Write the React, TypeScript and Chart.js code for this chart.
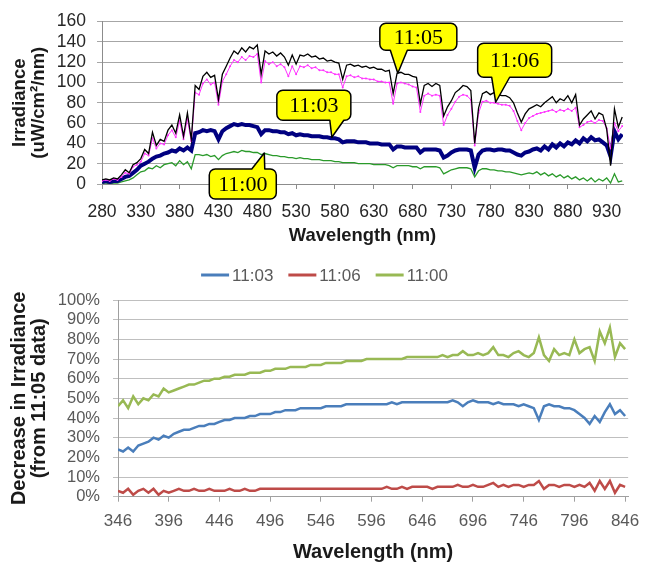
import { useEffect, useRef } from "react";
import { Chart, registerables } from "chart.js";

Chart.register(...registerables);

const SANS = "'Liberation Sans', Arial, sans-serif";
const SERIF = "'Liberation Serif', 'Times New Roman', serif";

// ---------- Top chart: irradiance spectra ----------
const TOP_NM = [
  280, 285, 290, 295, 300, 305, 310, 315, 320, 325, 330, 335, 340, 345, 350, 355, 360, 365, 370, 375,
  380, 385, 390, 395, 400, 405, 410, 415, 420, 425, 430, 435, 440, 445, 450, 455, 460, 465, 470, 475,
  480, 485, 490, 495, 500, 505, 510, 515, 520, 525, 530, 535, 540, 545, 550, 555, 560, 565, 570, 575,
  580, 585, 590, 595, 600, 605, 610, 615, 620, 625, 630, 635, 640, 645, 650, 655, 660, 665, 670, 675,
  680, 685, 690, 695, 700, 705, 710, 715, 720, 725, 730, 735, 740, 745, 750, 755, 760, 765, 770, 775,
  780, 785, 790, 795, 800, 805, 810, 815, 820, 825, 830, 835, 840, 845, 850, 855, 860, 865, 870, 875,
  880, 885, 890, 895, 900, 905, 910, 915, 920, 925, 930, 935, 940, 945, 950,
];

const IRR_1105 = [
  4, 5, 4, 6, 5, 9, 14, 11, 19, 21,
  25, 34, 30, 51, 38, 44, 42, 53, 58, 50,
  68, 47, 70, 44, 97, 93, 106, 110, 105, 107,
  83, 108, 116, 124, 131, 128, 134, 130, 135, 133,
  137, 108, 131, 128, 130, 126, 129, 125, 117, 127,
  118, 127, 126, 128, 125, 126, 123, 124, 121, 122,
  120, 119, 103, 117, 118, 116, 117, 115, 116, 114,
  115, 113, 113, 111, 112, 89, 109, 110, 108, 108,
  106, 105, 79, 97, 99, 96, 99, 97, 67, 76,
  82, 90, 93, 97, 96, 92, 40, 75, 89, 91,
  88, 90, 88, 87, 87, 85, 80, 70, 61, 69,
  74, 76, 78, 76, 80, 83, 86, 80, 84, 82,
  87, 80, 88, 58, 64, 68, 72, 64, 70, 68,
  54, 18, 74, 56, 66,
];

const IRR_1106 = [
  3, 4, 3, 5, 4, 7, 11, 10, 17, 19,
  22, 30, 28, 45, 35, 40, 39, 48, 53, 46,
  62, 44, 64, 42, 90, 88, 99, 103, 98, 100,
  78, 101, 108, 116, 122, 120, 125, 122, 126, 125,
  128, 100, 121, 118, 120, 116, 118, 115, 106, 116,
  108, 116, 115, 117, 114, 115, 112, 112, 110, 110,
  108, 108, 95, 106, 107, 105, 106, 104, 104, 103,
  103, 101, 101, 100, 100, 79, 99, 100, 99, 98,
  96, 95, 71, 87, 89, 87, 88, 87, 58, 68,
  74, 81, 86, 88, 87, 83, 38, 70, 81, 82,
  80, 80, 79, 78, 78, 77, 72, 62, 53, 60,
  65, 67, 69, 70, 71, 72, 73, 71, 73, 72,
  74, 72, 75, 56, 58, 61, 62, 60, 63, 62,
  55, 35, 60, 52, 57,
];

const IRR_1103 = [
  2, 3, 2, 3, 3, 5, 7, 8, 11, 14,
  18, 20, 22, 25, 27, 28, 30, 31, 33, 32,
  35, 33, 36, 33, 50, 51, 53, 52, 53, 52,
  44, 52, 55, 57, 59, 58, 59, 58, 58, 57,
  56, 49, 53, 53, 52, 52, 51, 51, 49, 50,
  48, 49, 48, 48, 47, 47, 47, 46, 46, 45,
  45, 44, 41, 42, 42, 42, 41, 41, 41, 40,
  40, 40, 39, 39, 39, 34, 37, 37, 36, 36,
  36, 36, 31, 34, 34, 34, 34, 33, 26, 28,
  31, 33, 34, 34, 34, 33, 16, 29, 33, 34,
  34, 33, 34, 34, 33, 33, 31, 29, 28, 31,
  32, 34, 35, 33, 37, 34, 39, 36, 40, 37,
  41, 39, 43, 40, 45, 42, 46, 43, 44, 41,
  38, 27, 52, 44, 49,
];

const IRR_1100 = [
  1, 1, 0, 1, 1, 2, 3, 4, 6, 9,
  12, 13, 16, 15, 18, 16, 19, 20, 21, 18,
  23, 19, 22, 15, 29, 29, 28, 29, 27, 28,
  24, 28, 30, 31, 32, 31, 33, 32, 32, 31,
  31, 29, 30, 29, 28, 28, 27, 27, 26, 26,
  25, 26, 25, 25, 24, 24, 24, 23, 23, 23,
  22, 22, 21, 21, 21, 21, 20, 20, 20, 20,
  19, 19, 19, 19, 18, 16, 18, 18, 18, 18,
  17, 17, 15, 17, 17, 17, 17, 16, 10, 12,
  14, 15, 16, 16, 16, 15, 7, 13, 15, 15,
  14, 14, 13, 13, 12, 12, 11, 10, 9, 10,
  11, 10, 12, 9, 11, 8, 10, 7, 9, 6,
  8, 5, 7, 4, 6, 3, 6, 2, 5, 3,
  6, 1, 10, 2, 3,
];

const TOP_X_TICKS = [280, 330, 380, 430, 480, 530, 580, 630, 680, 730, 780, 830, 880, 930];
const TOP_Y_TICKS = [0, 20, 40, 60, 80, 100, 120, 140, 160];

// Callouts: label, anchor wavelength, anchor irradiance
const CALLOUT_TEXT = ["11:00", "11:03", "11:05", "11:06"];
const CALLOUT_NM = [489, 576, 661, 787];
const CALLOUT_VALUE = [30.5, 46, 109, 80.5];
// box geometry relative to the anchor tip (pixels)
const CALLOUT_BOX = [
  { dx: -21.5, dy: 31, w: 67, h: 30, b1: 9, b2: 22 },
  { dx: -18, dy: -32, w: 74, h: 30, b1: 16, b2: 30 },
  { dx: 20.5, dy: -36.5, w: 77, h: 27, b1: -28, b2: -11 },
  { dx: 19, dy: -42, w: 74, h: 34, b1: -23, b2: -5 },
];

// ---------- Bottom chart: decrease in irradiance ----------
const BOT_NM = [
  346, 351, 356, 361, 366, 371, 376, 381, 386, 391, 396, 401, 406, 411, 416, 421, 426, 431, 436, 441,
  446, 451, 456, 461, 466, 471, 476, 481, 486, 491, 496, 501, 506, 511, 516, 521, 526, 531, 536, 541,
  546, 551, 556, 561, 566, 571, 576, 581, 586, 591, 596, 601, 606, 611, 616, 621, 626, 631, 636, 641,
  646, 651, 656, 661, 666, 671, 676, 681, 686, 691, 696, 701, 706, 711, 716, 721, 726, 731, 736, 741,
  746, 751, 756, 761, 766, 771, 776, 781, 786, 791, 796, 801, 806, 811, 816, 821, 826, 831, 836, 841,
  846,
];

const DEC_1103 = [
  24, 23, 25, 23, 26, 27, 28, 30, 29, 31,
  30, 32, 33, 34, 34, 35, 36, 36, 37, 37,
  38, 39, 39, 40, 40, 40, 41, 41, 42, 42,
  42, 43, 43, 44, 44, 44, 45, 45, 45, 45,
  45, 46, 46, 46, 46, 47, 47, 47, 47, 47,
  47, 47, 47, 47, 48, 47, 48, 48, 48, 48,
  48, 48, 48, 48, 48, 48, 49, 48, 46, 48,
  49, 48, 48, 48, 47, 48, 47, 47, 47, 46,
  47, 46, 45, 39, 46, 47, 46, 46, 45, 45,
  44, 42, 40, 37, 41, 38, 43, 47, 42, 44,
  41,
];

const DEC_1106 = [
  3, 2, 4, 1, 3, 4, 2, 4, 1, 3,
  2, 3, 4, 3, 3, 4, 3, 3, 4, 3,
  3, 3, 4, 3, 3, 4, 3, 3, 4, 4,
  4, 4, 4, 4, 4, 4, 4, 4, 4, 4,
  4, 4, 4, 4, 4, 4, 4, 4, 4, 4,
  4, 4, 4, 5, 4, 4, 5, 4, 5, 5,
  5, 5, 4, 5, 5, 5, 5, 6, 5, 5,
  6, 5, 5, 6, 7, 5, 6, 5, 6, 6,
  5, 6, 6, 8, 4, 6, 6, 5, 6, 6,
  5, 6, 5, 7, 3, 8, 4, 8, 2, 6,
  5,
];

const DEC_1100 = [
  46, 49, 45, 51, 47, 50, 49, 52, 51, 55,
  53, 54, 55, 56, 57, 57, 58, 59, 59, 60,
  60, 61, 61, 62, 62, 62, 63, 63, 63, 64,
  64, 65, 65, 65, 66, 66, 66, 66, 67, 67,
  67, 68, 68, 68, 68, 69, 69, 69, 69, 70,
  70, 70, 70, 70, 70, 70, 70, 71, 71, 71,
  71, 71, 71, 71, 72, 71, 72, 72, 74, 72,
  72, 73, 72, 73, 76, 72, 72, 71, 73, 74,
  72, 71, 73, 81, 72, 69, 75, 72, 73, 72,
  80, 73, 75, 76, 69, 84, 78, 86, 71, 78,
  75,
];

const BOT_X_TICKS = [346, 396, 446, 496, 546, 596, 646, 696, 746, 796, 846];
const BOT_Y_TICKS = [0, 10, 20, 30, 40, 50, 60, 70, 80, 90, 100];

const pts = (xs: number[], ys: number[]) => xs.map((x, i) => ({ x, y: ys[i] }));

function calloutPath(
  ctx: CanvasRenderingContext2D,
  x0: number, y0: number, x1: number, y1: number, r: number,
  side: "top" | "bottom", b1: number, b2: number, tx: number, ty: number
) {
  ctx.beginPath();
  ctx.moveTo(x0 + r, y0);
  if (side === "top") {
    ctx.lineTo(b1, y0);
    ctx.lineTo(tx, ty);
    ctx.lineTo(b2, y0);
  }
  ctx.lineTo(x1 - r, y0);
  ctx.arcTo(x1, y0, x1, y0 + r, r);
  ctx.lineTo(x1, y1 - r);
  ctx.arcTo(x1, y1, x1 - r, y1, r);
  if (side === "bottom") {
    ctx.lineTo(b2, y1);
    ctx.lineTo(tx, ty);
    ctx.lineTo(b1, y1);
  }
  ctx.lineTo(x0 + r, y1);
  ctx.arcTo(x0, y1, x0, y1 - r, r);
  ctx.lineTo(x0, y0 + r);
  ctx.arcTo(x0, y0, x0 + r, y0, r);
  ctx.closePath();
}

const calloutPlugin = {
  id: "callouts",
  afterDatasetsDraw(chart: any) {
    const { ctx, scales } = chart;
    ctx.save();
    CALLOUT_TEXT.forEach((label, i) => {
      const tx = scales.x.getPixelForValue(CALLOUT_NM[i]);
      const ty = scales.y.getPixelForValue(CALLOUT_VALUE[i]);
      const g = CALLOUT_BOX[i];
      const cx = tx + g.dx;
      const cy = ty + g.dy;
      const x0 = cx - g.w / 2, x1 = cx + g.w / 2, y0 = cy - g.h / 2, y1 = cy + g.h / 2;
      const side = g.dy > 0 ? "top" : "bottom";
      calloutPath(ctx, x0, y0, x1, y1, 6, side, cx + g.b1, cx + g.b2, tx, ty);
      ctx.fillStyle = "#ffff00";
      ctx.fill();
      ctx.lineWidth = 1.5;
      ctx.strokeStyle = "#000";
      ctx.lineJoin = "round";
      ctx.stroke();
      ctx.fillStyle = "#000";
      ctx.font = `22px ${SERIF}`;
      ctx.textAlign = "center";
      ctx.textBaseline = "middle";
      ctx.fillText(label, cx, cy + 1);
    });
    ctx.restore();
  },
};

const lineLegendPlugin = {
  id: "lineLegend",
  afterDraw(chart: any) {
    const { ctx } = chart;
    const ds = chart.data.datasets;
    ctx.save();
    ctx.font = `17px ${SANS}`;
    const lineW = 28, gap = 3, itemGap = 15;
    const widths = ds.map((d: any) => lineW + gap + ctx.measureText(d.label).width);
    const total = widths.reduce((a: number, b: number) => a + b, 0) + itemGap * (ds.length - 1);
    let x = chart.width / 2 - total / 2;
    const y = 25;
    ds.forEach((d: any, i: number) => {
      ctx.strokeStyle = d.borderColor;
      ctx.lineWidth = 3;
      ctx.beginPath();
      ctx.moveTo(x, y);
      ctx.lineTo(x + lineW, y);
      ctx.stroke();
      ctx.fillStyle = "#595959";
      ctx.textAlign = "left";
      ctx.textBaseline = "middle";
      ctx.fillText(d.label, x + lineW + gap, y + 1);
      x += widths[i] + itemGap;
    });
    ctx.restore();
  },
};

export default function App() {
  const topRef = useRef<HTMLCanvasElement | null>(null);
  const botRef = useRef<HTMLCanvasElement | null>(null);

  useEffect(() => {
    if (!topRef.current || !botRef.current) return;

    const top = new Chart(topRef.current, {
      type: "line",
      data: {
        datasets: [
          { label: "11:05", data: pts(TOP_NM, IRR_1105), borderColor: "#000000", borderWidth: 1.3, pointRadius: 0, tension: 0 },
          { label: "11:06", data: pts(TOP_NM, IRR_1106), borderColor: "#ff33ff", backgroundColor: "#ff33ff", borderWidth: 1, pointRadius: 1, pointBorderWidth: 0, tension: 0 },
          { label: "11:03", data: pts(TOP_NM, IRR_1103), borderColor: "#000080", borderWidth: 4, pointRadius: 0, tension: 0 },
          { label: "11:00", data: pts(TOP_NM, IRR_1100), borderColor: "#2a9a2a", borderWidth: 1.3, pointRadius: 0, tension: 0 },
        ],
      },
      options: {
        responsive: false,
        animation: false,
        devicePixelRatio: 1,
        layout: { padding: { top: 17, left: 0, right: 26, bottom: 0 } },
        plugins: { legend: { display: false }, tooltip: { enabled: false } },
        scales: {
          x: {
            type: "linear",
            min: 280,
            max: 951,
            afterBuildTicks: (s: any) => { s.ticks = TOP_X_TICKS.map((value) => ({ value })); },
            afterFit: (s: any) => { s.height = 66; },
            ticks: { autoSkip: false, maxRotation: 0, padding: 12.5, color: "#262626", font: { family: SANS, size: 17.5 } },
            grid: { drawOnChartArea: false, tickLength: 5, color: "#8c8c8c" },
            border: { color: "#8c8c8c" },
            title: {
              display: true,
              text: "Wavelength (nm)",
              color: "#1a1a1a",
              font: { family: SANS, size: 18.4, weight: "bold", lineHeight: 1.2 },
              padding: { top: 0, bottom: 3 },
            },
          },
          y: {
            min: 0,
            max: 160,
            afterBuildTicks: (s: any) => { s.ticks = TOP_Y_TICKS.map((value) => ({ value })); },
            afterFit: (s: any) => { s.width = 102; },
            ticks: { autoSkip: false, padding: 11, color: "#262626", font: { family: SANS, size: 17.5 } },
            grid: { color: "#a6a6a6", tickLength: 5 },
            border: { color: "#8c8c8c" },
            title: {
              display: true,
              text: ["Irradiance", "(uW/cm²/nm)"],
              color: "#1a1a1a",
              font: { family: SANS, size: 18.5, weight: "bold", lineHeight: 1.0 },
              padding: { top: 10.75, bottom: 0 },
            },
          },
        },
      },
      plugins: [calloutPlugin],
    } as any);

    const bot = new Chart(botRef.current, {
      type: "line",
      data: {
        datasets: [
          { label: "11:03", data: pts(BOT_NM, DEC_1103), borderColor: "#4a7ebb", borderWidth: 2.5, pointRadius: 0, tension: 0 },
          { label: "11:06", data: pts(BOT_NM, DEC_1106), borderColor: "#be4b48", borderWidth: 2.5, pointRadius: 0, tension: 0 },
          { label: "11:00", data: pts(BOT_NM, DEC_1100), borderColor: "#98b954", borderWidth: 2.5, pointRadius: 0, tension: 0 },
        ],
      },
      options: {
        responsive: false,
        animation: false,
        devicePixelRatio: 1,
        layout: { padding: { top: 50, left: 0, right: 20, bottom: 0 } },
        plugins: { legend: { display: false }, tooltip: { enabled: false } },
        scales: {
          x: {
            type: "linear",
            min: 346,
            max: 849,
            afterBuildTicks: (s: any) => { s.ticks = BOT_X_TICKS.map((value) => ({ value })); },
            afterFit: (s: any) => { s.height = 69.3; },
            ticks: { autoSkip: false, maxRotation: 0, padding: 9.6, color: "#595959", font: { family: SANS, size: 17 } },
            grid: { drawOnChartArea: false, tickLength: 5, color: "#a0a0a0" },
            border: { color: "#a0a0a0" },
            title: {
              display: true,
              text: "Wavelength (nm)",
              color: "#1a1a1a",
              font: { family: SANS, size: 20, weight: "bold", lineHeight: 1.2 },
              padding: { top: 0, bottom: 2 },
            },
          },
          y: {
            min: 0,
            max: 100,
            afterBuildTicks: (s: any) => { s.ticks = BOT_Y_TICKS.map((value) => ({ value })); },
            afterFit: (s: any) => { s.width = 118; },
            ticks: { autoSkip: false, padding: 13, color: "#595959", font: { family: SANS, size: 16.5 }, callback: (v: any) => `${v}%` },
            grid: { color: "#bfbfbf", tickLength: 5 },
            border: { color: "#a0a0a0" },
            title: {
              display: true,
              text: ["Decrease in Irradiance", "(from 11:05 data)"],
              color: "#1a1a1a",
              font: { family: SANS, size: 20, weight: "bold", lineHeight: 1.0 },
              padding: { top: 9, bottom: 0 },
            },
          },
        },
      },
      plugins: [lineLegendPlugin],
    } as any);

    return () => {
      top.destroy();
      bot.destroy();
    };
  }, []);

  return (
    <div style={{ position: "absolute", left: 0, top: 0, width: 649, height: 566, background: "#ffffff" }}>
      <canvas ref={topRef} width={649} height={250} style={{ position: "absolute", left: 0, top: 0 }} />
      <canvas ref={botRef} width={649} height={316} style={{ position: "absolute", left: 0, top: 250 }} />
    </div>
  );
}
